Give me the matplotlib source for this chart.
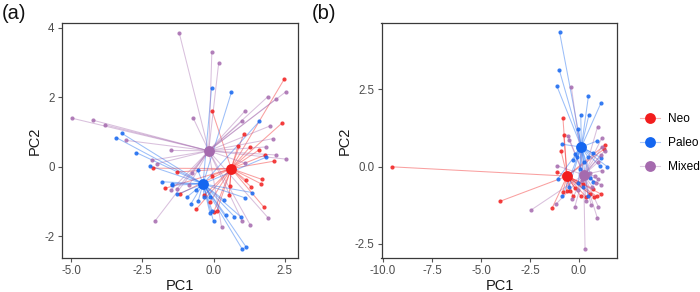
import matplotlib
matplotlib.use("Agg")
import matplotlib.pyplot as plt
from matplotlib.lines import Line2D

plt.rcParams['font.family'] = ['Liberation Sans', 'DejaVu Sans']

groups = ["Neo", "Paleo", "Mixed"]
colors = {"Neo": "#F21D1D", "Paleo": "#1466F0", "Mixed": "#A56AAE"}

# ---------------- Panel (a) ----------------
neo_a_x = [-2.13, -1.30, -1.71, -1.17, -0.05, 2.49, 2.41, 1.06, 0.86, 1.29, 1.59, 1.82, 2.11,
           1.69, 1.65, 1.15, 1.31, 1.77, 0.55, -0.32, -0.12, -0.61, 0.12, -0.06, 0.57, 0.01]
neo_a_y = [-0.04, -0.15, -0.62, -0.77, 1.61, 2.53, 1.26, 0.94, 0.60, 0.58, 0.48, 0.34, 0.16,
           -0.36, -0.48, -0.39, -0.57, -1.16, -0.81, -0.81, -1.01, -1.22, -1.26, -0.25, -0.55, -1.29]
paleo_a_x = [-0.07, 0.63, 1.61, -3.42, -3.22, -2.72, -2.22, -1.81, -1.45, -1.47, -1.27, -0.62,
             -0.80, -0.95, -0.54, -0.34, -0.12, -0.05, -0.13, 0.00, 0.37, 0.42, 0.73, 0.96,
             1.10, 1.36, 1.01, 1.14, 1.83, -0.55]
paleo_a_y = [2.26, 2.15, 1.31, 0.84, 0.96, 0.41, 0.02, -0.43, -0.48, -0.53, -0.79, -0.67,
             -1.07, -0.88, -0.98, -0.88, -0.86, -1.27, -1.32, -1.57, -0.96, -1.38, -1.43, -1.44,
             -0.89, -0.74, -2.37, -2.30, 0.27, -0.10]
mixed_a_x = [-1.21, -0.06, 0.18, -4.99, -4.24, -3.83, -3.08, -0.72, -1.48, 1.10, 1.00, 1.90,
             2.18, 2.53, 2.00, 2.09, 1.83, 2.20, 2.56, 1.12, -2.15, -1.98, -1.30, -1.49, -0.86,
             -2.07, 1.01, 1.29, 0.28, 1.91, -0.75]
mixed_a_y = [3.86, 3.29, 2.98, 1.40, 1.34, 1.21, 0.76, 1.41, 0.47, 1.60, 1.31, 2.01,
             1.94, 2.15, 1.18, 0.81, 0.57, 0.34, 0.22, 0.10, 0.19, 0.09, -0.65, -0.67, -0.53,
             -1.57, -1.56, -1.67, -1.73, -1.46, -0.19]
centroid_a_x = [0.62, -0.37, -0.17]
centroid_a_y = [-0.05, -0.49, 0.46]

# ---------------- Panel (b) ----------------
neo_b_x = [-9.56, -4.05, -0.82, -0.78, -0.92, -1.12, -1.36, -0.63, -0.48, -0.20, 0.10, 0.36,
           0.78, 0.55, 0.71, 1.12, 0.92, 1.35, 1.28, -0.82, -0.31, 0.20]
neo_b_y = [-0.01, -1.13, 1.57, 1.02, 0.51, -0.19, -1.33, -0.78, -0.78, -0.71, -0.97, -0.98,
           -0.99, -0.89, -0.72, -0.89, -0.97, 0.71, 0.56, -0.81, -0.97, -0.55]
paleo_b_x = [-0.99, -1.00, -1.12, 0.48, 1.11, 0.09, 0.51, -0.03, 0.90, -0.85, -0.85, -1.07,
             -0.51, -0.03, 0.07, -0.22, -0.10, 0.44, 0.71, 1.14, 1.05, 1.43, 0.54, 0.71, 0.20,
             0.46, 0.25, -0.30]
paleo_b_y = [4.34, 3.11, 2.59, 2.27, 2.04, 1.68, 1.68, 1.20, 0.82, 0.72, -0.97, -0.39,
             -0.65, -0.52, -0.09, 0.40, 0.32, 0.32, 0.43, 0.28, 0.02, 0.00, -0.38, -0.49, -0.65,
             -0.95, 0.15, 0.20]
mixed_b_x = [-0.39, 0.95, 1.17, -0.56, -0.51, -2.45, -1.16, -1.14, 0.31, 0.94, 0.99, 0.63,
             0.37, -0.22, -0.34, 1.19, 0.99, 1.12, 0.68, 0.85, 0.97, 1.14, 1.17, 1.31, 0.17,
             0.55, 0.80, -0.05]
mixed_b_y = [2.57, 1.29, 0.93, 1.00, 0.87, -1.41, -1.21, 0.03, -2.67, -1.67, -1.30, -1.26,
             -1.13, -1.32, -1.06, -0.13, -0.40, -0.59, -0.65, -0.52, 0.14, 0.38, 0.63, 0.51, -0.43,
             -0.20, -0.30, -0.75]
centroid_b_x = [-0.61, 0.12, 0.24]
centroid_b_y = [-0.31, 0.63, -0.27]

fig = plt.figure(figsize=(7.0, 2.92), dpi=100)
ax_a = fig.add_axes([0.088, 0.1154, 0.337, 0.8066])
ax_b = fig.add_axes([0.545, 0.1154, 0.337, 0.8066])


def draw(ax, pts, cx, cy):
    for i, g in enumerate(groups):
        xs, ys = pts[g]
        c = colors[g]
        for x, y in zip(xs, ys):
            ax.plot([cx[i], x], [cy[i], y], color=c, alpha=0.42, lw=0.75, zorder=1,
                    solid_capstyle='butt')
    for i, g in enumerate(groups):
        xs, ys = pts[g]
        ax.plot(xs, ys, 'o', color=colors[g], ms=3.0, alpha=0.85, mec='none', zorder=2)
    for i, g in enumerate(groups):
        ax.plot([cx[i]], [cy[i]], 'o', color=colors[g], ms=7.8, mec='none', zorder=3)


def style(ax):
    for s in ax.spines.values():
        s.set_color('#3a3a3a')
        s.set_linewidth(0.9)
    ax.tick_params(direction='out', length=3, width=0.8, color='#555555',
                   labelsize=8.3, labelcolor='#4D4D4D', pad=2)
    ax.set_xlabel('PC1', fontsize=10.5, color='#1a1a1a', labelpad=1)
    ax.set_ylabel('PC2', fontsize=10.5, color='#1a1a1a', labelpad=2)


draw(ax_a, {"Neo": (neo_a_x, neo_a_y), "Paleo": (paleo_a_x, paleo_a_y),
            "Mixed": (mixed_a_x, mixed_a_y)}, centroid_a_x, centroid_a_y)
ax_a.set_xlim(-5.34, 2.95)
ax_a.set_ylim(-2.63, 4.14)
ax_a.set_xticks([-5.0, -2.5, 0.0, 2.5])
ax_a.set_xticklabels(['-5.0', '-2.5', '0.0', '2.5'])
ax_a.set_yticks([-2, 0, 2, 4])
ax_a.set_yticklabels(['-2', '0', '2', '4'])
style(ax_a)

draw(ax_b, {"Neo": (neo_b_x, neo_b_y), "Paleo": (paleo_b_x, paleo_b_y),
            "Mixed": (mixed_b_x, mixed_b_y)}, centroid_b_x, centroid_b_y)
ax_b.set_xlim(-10.08, 1.96)
ax_b.set_ylim(-2.97, 4.65)
ax_b.set_xticks([-10.0, -7.5, -5.0, -2.5, 0.0])
ax_b.set_xticklabels(['-10.0', '-7.5', '-5.0', '-2.5', '0.0'])
ax_b.set_yticks([-2.5, 0.0, 2.5])
ax_b.set_yticklabels(['-2.5', '0.0', '2.5'])
style(ax_b)

fig.text(0.003, 0.955, '(a)', fontsize=14.5, va='center', ha='left', color='#111111')
fig.text(0.445, 0.955, '(b)', fontsize=14.5, va='center', ha='left', color='#111111')

handles = []
for g in groups:
    ln = Line2D([0], [0], color=colors[g], lw=0.8, alpha=0.35)
    mk = Line2D([0], [0], linestyle='none', marker='o', ms=7.8, color=colors[g], mec='none')
    handles.append((ln, mk))
leg = fig.legend(handles, groups, loc='center left', bbox_to_anchor=(0.907, 0.51),
                 frameon=False, fontsize=8.6, handlelength=1.7, handletextpad=0.7,
                 labelspacing=1.0, borderaxespad=0)

fig.savefig('out.png', dpi=100)
